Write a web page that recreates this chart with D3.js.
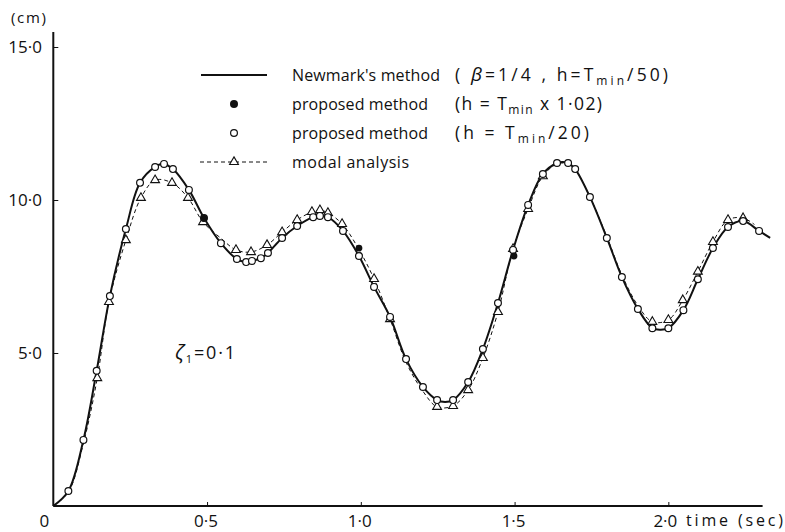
<!DOCTYPE html>
<html><head><meta charset="utf-8">
<script src="https://cdn.jsdelivr.net/npm/d3@7"></script>
<style>
body{margin:0;background:#fff;}
svg{display:block;font-family:"Open Sans","DejaVu Sans",sans-serif;}
</style></head>
<body><svg id="c" width="785" height="532"></svg>
<script>
// ---- data ----
const xTicks = [0, 0.5, 1.0, 1.5, 2.0];
const xTickLabels = ["0", "0·5", "1·0", "1·5", "2·0"];
const yTicks = [5, 10, 15];
const yTickLabels = ["5·0", "10·0", "15·0"];

// Newmark's method (solid line)
const newmarkT = [0, 0.049, 0.098, 0.141, 0.184, 0.236, 0.282, 0.331, 0.360, 0.389, 0.441, 0.490, 0.545, 0.597, 0.627, 0.646, 0.675, 0.698, 0.744, 0.793, 0.845, 0.867, 0.893, 0.942, 0.994, 1.043, 1.095, 1.147, 1.202, 1.248, 1.274, 1.300, 1.349, 1.397, 1.446, 1.495, 1.544, 1.592, 1.638, 1.656, 1.674, 1.697, 1.745, 1.800, 1.849, 1.901, 1.948, 1.974, 2.000, 2.049, 2.096, 2.145, 2.194, 2.243, 2.295, 2.331];
const newmarkY = [0, 0.49, 2.16, 4.42, 6.86, 9.05, 10.56, 11.08, 11.18, 11.01, 10.33, 9.41, 8.59, 8.07, 7.97, 8.01, 8.10, 8.27, 8.76, 9.15, 9.44, 9.48, 9.44, 8.99, 8.17, 7.16, 6.18, 4.80, 3.89, 3.46, 3.40, 3.46, 4.05, 5.13, 6.63, 8.37, 9.84, 10.85, 11.21, 11.24, 11.21, 11.01, 10.10, 8.76, 7.48, 6.44, 5.81, 5.76, 5.81, 6.40, 7.41, 8.43, 9.12, 9.31, 8.99, 8.76];

// proposed method h = Tmin/20 (open circles)
const openT = [0.049, 0.098, 0.141, 0.184, 0.236, 0.282, 0.331, 0.360, 0.389, 0.441, 0.490, 0.545, 0.597, 0.627, 0.646, 0.675, 0.698, 0.744, 0.793, 0.845, 0.867, 0.893, 0.942, 0.994, 1.043, 1.095, 1.147, 1.202, 1.248, 1.300, 1.349, 1.397, 1.446, 1.495, 1.544, 1.592, 1.638, 1.674, 1.697, 1.745, 1.800, 1.849, 1.901, 1.948, 2.000, 2.049, 2.096, 2.145, 2.194, 2.243, 2.295];
const openY = [0.49, 2.16, 4.42, 6.86, 9.05, 10.56, 11.08, 11.18, 11.01, 10.33, 9.41, 8.59, 8.07, 7.97, 8.01, 8.10, 8.27, 8.76, 9.15, 9.44, 9.48, 9.44, 8.99, 8.17, 7.16, 6.18, 4.80, 3.89, 3.46, 3.46, 4.05, 5.13, 6.63, 8.37, 9.84, 10.85, 11.21, 11.21, 11.01, 10.10, 8.76, 7.48, 6.44, 5.81, 5.81, 6.40, 7.41, 8.43, 9.12, 9.31, 8.99];

// proposed method h = Tmin x 1.02 (filled dots)
const filledT = [0.490, 0.994, 1.498];
const filledY = [9.41, 8.43, 8.17];

// modal analysis (dashed line with triangles)
const modalT = [0, 0.049, 0.098, 0.143, 0.181, 0.236, 0.285, 0.331, 0.386, 0.438, 0.487, 0.545, 0.594, 0.643, 0.695, 0.744, 0.793, 0.841, 0.867, 0.893, 0.939, 0.994, 1.043, 1.095, 1.147, 1.202, 1.248, 1.300, 1.349, 1.397, 1.446, 1.495, 1.544, 1.592, 1.638, 1.674, 1.697, 1.745, 1.800, 1.849, 1.901, 1.948, 2.000, 2.047, 2.096, 2.145, 2.194, 2.243, 2.280];
const modalY = [0, 0.45, 2.05, 4.18, 6.67, 8.69, 10.07, 10.65, 10.56, 10.07, 9.28, 8.75, 8.37, 8.30, 8.53, 8.95, 9.35, 9.61, 9.67, 9.58, 9.22, 8.38, 7.42, 6.11, 4.70, 3.75, 3.24, 3.27, 3.79, 4.84, 6.34, 8.40, 9.71, 10.78, 11.18, 11.18, 11.00, 10.10, 8.80, 7.55, 6.55, 6.02, 6.08, 6.73, 7.66, 8.63, 9.35, 9.41, 9.20];
const modalMark = [0, 0, 0, 1, 1, 1, 1, 1, 1, 1, 1, 0, 1, 1, 1, 1, 1, 1, 1, 1, 1, 0, 1, 1, 0, 0, 1, 1, 1, 1, 1, 1, 1, 1, 0, 0, 0, 0, 0, 0, 0, 1, 1, 1, 1, 1, 1, 1, 0];

// ---- chart ----
const svg = d3.select("#c");
const x = d3.scaleLinear().domain([0, 2.3]).range([53.3, 760.6]);
const y = d3.scaleLinear().domain([0, 15]).range([506, 47]);
const ink = "#111";

// axes
const xAxis = d3.axisBottom(x).tickValues(xTicks.slice(1)).tickSize(-4).tickSizeOuter(0).tickFormat(() => "");
svg.append("g").attr("transform", "translate(0,506)").call(xAxis)
  .call(g => g.select(".domain").attr("stroke", ink).attr("stroke-width", 2).attr("d", `M${x(0)},0H${x(2.3)+2}`))
  .call(g => g.selectAll(".tick line").attr("stroke", ink).attr("stroke-width", 1));
const yAxis = d3.axisLeft(y).tickValues(yTicks).tickSize(-5).tickSizeOuter(0).tickFormat(() => "");
svg.append("g").attr("transform", `translate(${x(0)},0)`).call(yAxis)
  .call(g => g.select(".domain").attr("stroke", ink).attr("stroke-width", 2).attr("d", `M0,32V506`))
  .call(g => g.selectAll(".tick line").attr("stroke", ink).attr("stroke-width", 1));

// tick labels
svg.append("g").selectAll("text").data(xTicks).join("text")
  .attr("x", (d, i) => i === 0 ? x(d) - 9 : (i === 4 ? x(d) - 3 : x(d) - 1)).attr("y", 527)
  .attr("text-anchor", "middle").attr("font-size", 17).attr("fill", ink)
  .text((d, i) => xTickLabels[i]);
svg.append("g").selectAll("text").data(yTicks).join("text")
  .attr("x", 42).attr("y", d => y(d) + 6)
  .attr("text-anchor", "end").attr("font-size", 17).attr("fill", ink)
  .text((d, i) => yTickLabels[i]);
svg.append("text").attr("x", 686).attr("y", 526).attr("font-size", 16).attr("fill", ink)
  .attr("textLength", 97).attr("lengthAdjust", "spacing").text("time (sec)");
svg.append("text").attr("x", 11).attr("y", 23).attr("font-size", 15).attr("fill", ink)
  .attr("textLength", 35).attr("lengthAdjust", "spacing").text("(cm)");

// lines
const lineGen = d3.line().x(d => x(d[0])).y(d => y(d[1])).curve(d3.curveCatmullRom.alpha(0.5));
svg.append("path").datum(modalT.map((t, i) => [t, modalY[i]]))
  .attr("d", lineGen).attr("fill", "none").attr("stroke", ink).attr("stroke-width", 1).attr("stroke-dasharray", "4,3");
svg.append("path").datum(newmarkT.map((t, i) => [t, newmarkY[i]]))
  .attr("d", lineGen).attr("fill", "none").attr("stroke", ink).attr("stroke-width", 2);

// triangles
const tri = d3.symbol().type(d3.symbolTriangle).size(34);
svg.append("g").selectAll("path").data(modalT.map((t, i) => [t, modalY[i], modalMark[i]]).filter(d => d[2]))
  .join("path").attr("d", tri).attr("transform", d => `translate(${x(d[0])},${y(d[1])})`)
  .attr("fill", "#fff").attr("stroke", ink).attr("stroke-width", 1.1);
// open circles
svg.append("g").selectAll("circle").data(openT.map((t, i) => [t, openY[i]]))
  .join("circle").attr("cx", d => x(d[0])).attr("cy", d => y(d[1])).attr("r", 3.4)
  .attr("fill", "#fff").attr("stroke", ink).attr("stroke-width", 1.2);
// filled dots
svg.append("g").selectAll("circle").data(filledT.map((t, i) => [t, filledY[i]]))
  .join("circle").attr("cx", d => x(d[0])).attr("cy", d => y(d[1])).attr("r", 3.4).attr("fill", ink);

// legend
const lg = svg.append("g").attr("font-size", 16).attr("fill", ink);
const rows = [75, 104, 133, 162];
lg.append("line").attr("x1", 201).attr("x2", 267).attr("y1", rows[0]).attr("y2", rows[0]).attr("stroke", ink).attr("stroke-width", 2);
lg.append("circle").attr("cx", 234).attr("cy", rows[1]).attr("r", 4).attr("fill", ink);
lg.append("circle").attr("cx", 234).attr("cy", rows[2]).attr("r", 3.4).attr("fill", "#fff").attr("stroke", ink).attr("stroke-width", 1.2);
lg.append("line").attr("x1", 200).attr("x2", 268).attr("y1", rows[3]).attr("y2", rows[3]).attr("stroke", ink).attr("stroke-width", 1).attr("stroke-dasharray", "4,3");
lg.append("path").attr("d", tri).attr("transform", `translate(234,${rows[3]})`).attr("fill", "#fff").attr("stroke", ink).attr("stroke-width", 1.1);

const names = ["Newmark's method", "proposed method", "proposed method", "modal analysis"];
const nameLen = [148, 136, 136, 117];
names.forEach((n, i) => lg.append("text").attr("x", 292).attr("y", rows[i] + 6)
  .attr("textLength", nameLen[i]).attr("lengthAdjust", "spacing").text(n));

function paren(row, len, parts) {
  const t = lg.append("text").attr("x", 455).attr("y", rows[row] + 6).attr("font-size", 17.5)
    .attr("textLength", len).attr("lengthAdjust", "spacing");
  parts.forEach(p => {
    const s = t.append("tspan").text(p[0]);
    if (p[1] === "sub") s.attr("font-size", 12).attr("dy", 4);
    if (p[1] === "up") s.attr("dy", -4);
    if (p[1] === "it") s.attr("font-style", "italic").attr("font-size", 19);
  });
}
paren(0, 213, [["( "], ["β", "it"], ["=1/4 , h=T"], ["min", "sub"], ["/50)", "up"]]);
paren(1, 147, [["(h = T"], ["min", "sub"], [" x 1·02)", "up"]]);
paren(2, 134, [["(h = T"], ["min", "sub"], ["/20)", "up"]]);

// damping label
const zt = svg.append("text").attr("x", 175).attr("y", 359).attr("font-size", 18).attr("fill", ink)
  .attr("textLength", 60).attr("lengthAdjust", "spacing");
zt.append("tspan").text("ζ").attr("font-style", "italic").attr("font-size", 20);
zt.append("tspan").text("1").attr("font-size", 11).attr("dy", 4);
zt.append("tspan").text("=0·1").attr("dy", -4);
</script></body></html>
